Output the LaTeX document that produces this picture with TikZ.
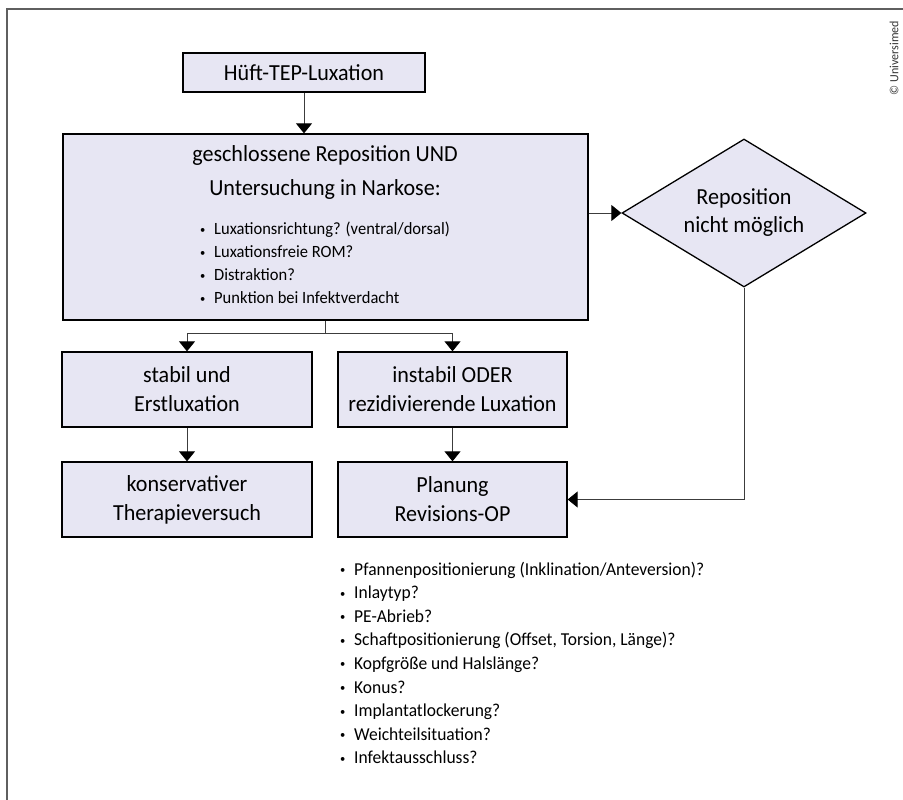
\documentclass[tikz,border=0pt]{standalone}
\usepackage{fontspec}
\setmainfont{Carlito}[FakeStretch=0.96]
\usetikzlibrary{shapes.geometric,arrows.meta}
\definecolor{boxfill}{RGB}{231,230,243}
\definecolor{frameg}{RGB}{95,95,95}
\definecolor{lineg}{RGB}{60,60,60}
\newcommand{\bul}{\makebox[14pt][l]{\fontsize{11}{11}\selectfont\raisebox{1.6pt}{•}}}
\begin{document}
\begin{tikzpicture}[x=1pt,y=-1pt,
  box/.style={draw=black, line width=1.3pt, fill=boxfill, inner sep=0pt, align=center,
    font=\fontsize{23}{29}\selectfont},
  dec/.style={draw=black, line width=1.3pt, fill=boxfill, diamond, shape aspect=1.65,
    inner sep=0pt, align=center, font=\fontsize{23}{28}\selectfont},
  conline/.style={draw=lineg, line width=0.9pt},
  conn/.style={conline, -{Triangle[width=16pt,length=10pt,color=black]}},
  blist/.style={anchor=west, align=left, inner sep=0pt}]
\useasboundingbox (0,0) rectangle (903,800);
% frame
\draw[frameg, line width=1.8pt] (903,9) -- (7,9) -- (7,801);
\node[rotate=90, font=\fontsize{12.5}{12.5}\selectfont, text=black!80] (copy) at (894,58) {© Universimed};
% nodes
\node[box, minimum width=242pt, minimum height=39pt] (top) at (304,72.5) {Hüft-TEP-Luxation};
\node[box, minimum width=525pt, minimum height=186pt] (main) at (325.5,227) {};
\node[align=center, font=\fontsize{23}{34}\selectfont] (mtitle) at (325,172)
  {geschlossene Reposition UND\\Untersuchung in Narkose:};
\node[blist, font=\fontsize{17.2}{23}\selectfont] (mlist) at (200,263)
  {\bul Luxationsrichtung? (ventral/dorsal)\\
   \bul Luxationsfreie ROM?\\
   \bul Distraktion?\\
   \bul Punktion bei Infektverdacht};
\node[dec, minimum width=244pt, minimum height=148pt] (dia) at (744,213) {Reposition\\nicht möglich};
\node[box, minimum width=250pt, minimum height=75pt] (stab) at (187,389.5) {stabil und\\Erstluxation};
\node[box, minimum width=229pt, minimum height=75pt] (inst) at (452.5,389.5) {instabil ODER\\rezidivierende Luxation};
\node[box, minimum width=250pt, minimum height=75pt] (kons) at (187,499.5) {konservativer\\Therapieversuch};
\node[box, minimum width=229pt, minimum height=75pt] (plan) at (452.5,499.5) {Planung\\Revisions-OP};
\node[blist, font=\fontsize{18.2}{23.6}\selectfont] (plist) at (340,663)
  {\bul Pfannenpositionierung (Inklination/Anteversion)?\\
   \bul Inlaytyp?\\
   \bul PE-Abrieb?\\
   \bul Schaftpositionierung (Offset, Torsion, Länge)?\\
   \bul Kopfgröße und Halslänge?\\
   \bul Konus?\\
   \bul Implantatlockerung?\\
   \bul Weichteilsituation?\\
   \bul Infektausschluss?};
% connectors
\coordinate (br) at (main.south |- 0,333);
\draw[conn] (top.south) -- (top.south |- main.north);
\draw[conn] (main.east |- dia.west) -- (dia.west);
\draw[conline] (main.south) -- (br);
\draw[conn] (br) -| (stab.north);
\draw[conn] (br) -| (inst.north);
\draw[conn] (stab.south) -- (kons.north);
\draw[conn] (inst.south) -- (plan.north);
\draw[conn] (dia.south) |- (plan.east);
\end{tikzpicture}
\end{document}
